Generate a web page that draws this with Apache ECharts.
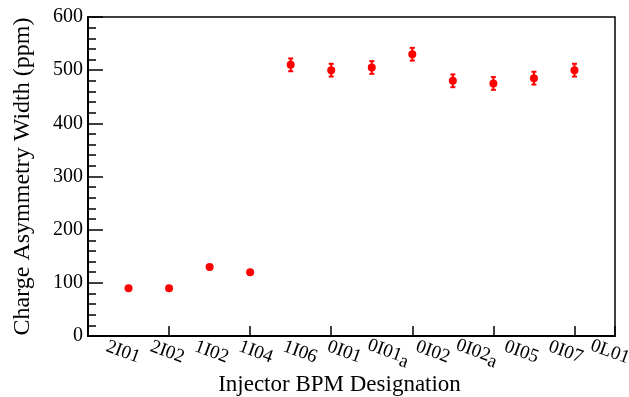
<!DOCTYPE html>
<html>
<head>
<meta charset="utf-8">
<script src="https://cdn.jsdelivr.net/npm/echarts@6/dist/echarts.min.js"></script>
<style>
html,body{margin:0;padding:0;background:#fff;}
#chart{width:629px;height:397px;}
</style>
</head>
<body>
<div id="chart"></div>
<script>
const bpmNames = ['2I01','2I02','1I02','1I04','1I06','0I01','0I01a','0I02','0I02a','0I05','0I07','0L01'];
const xPos = [1,2,3,4,5,6,7,8,9,10,11,12];
const widthPpm = [90,90,130,120,510,500,505,530,480,475,485,500];
const errPpm = [0,0,0,0,12,12,12,12,12,12,12,12];
const yTicks = [0,100,200,300,400,500,600];
const labelIdx = [0,1,2,3,4,5,6,7,8,9,10,11];

const FONT = 'Liberation Serif';
const chart = echarts.init(document.getElementById('chart'), null, {renderer:'canvas'});

const scatterData = xPos.map((x,i)=>[x, widthPpm[i]]);
const errData = xPos.map((x,i)=>[x, widthPpm[i]-errPpm[i], widthPpm[i]+errPpm[i]]);

function fmtName(v){
  const s = bpmNames[Math.round(v)] || '';
  const m = s.match(/^(.*?)(a)$/);
  return m ? m[1] + '{sub|' + m[2] + '}' : s;
}

chart.setOption({
  animation:false,
  backgroundColor:'#fff',
  grid:{left:88,right:14,top:17,bottom:61,outerBoundsMode:'none',containLabel:false,show:true,borderColor:'#000',borderWidth:1.5,backgroundColor:'transparent'},
  xAxis:[{
    type:'value',min:0,max:13,interval:2,
    axisLine:{show:true,lineStyle:{color:'#000',width:2}},
    axisTick:{show:true,inside:true,length:10,lineStyle:{color:'#000',width:1.5}},
    axisLabel:{show:false},
    splitLine:{show:false},
    name:'Injector BPM Designation',nameLocation:'middle',nameGap:37,
    nameTextStyle:{fontFamily:FONT,fontSize:23,color:'#000',padding:[0,24,0,0]}
  },{
    type:'value',min:-0.7906,max:11.114,position:'bottom',
    axisLine:{show:false},axisTick:{show:false},splitLine:{show:false},
    axisLabel:{show:true,customValues:labelIdx,formatter:fmtName,rotate:-20,align:'center',verticalAlign:'middle',margin:16,
      fontFamily:FONT,fontSize:19,color:'#000',
      rich:{sub:{fontFamily:FONT,fontSize:19,color:'#000',verticalAlign:'bottom',padding:[8,0,0,0]}}}
  }],
  yAxis:{
    type:'value',min:0,max:600,interval:100,
    axisLine:{show:true,lineStyle:{color:'#000',width:2}},
    axisTick:{show:true,inside:true,length:15,lineStyle:{color:'#000',width:1.5}},
    minorTick:{show:true,splitNumber:5,length:8,lineStyle:{color:'#000',width:1.5}},
    axisLabel:{show:true,margin:5,fontFamily:FONT,fontSize:20,color:'#000',customValues:yTicks},
    splitLine:{show:false},
    name:'Charge Asymmetry Width (ppm)',nameLocation:'middle',nameGap:53,
    nameTextStyle:{fontFamily:FONT,fontSize:24,color:'#000'}
  },
  series:[{
    type:'custom',xAxisIndex:0,yAxisIndex:0,
    data:errData,
    renderItem:function(params,api){
      const x = api.value(0), lo = api.value(1), hi = api.value(2);
      if (hi - lo <= 0) return null;
      const p1 = api.coord([x,lo]), p2 = api.coord([x,hi]);
      const cw = 2.5;
      const st = {stroke:'#ff0000',lineWidth:2};
      return {type:'group',children:[
        {type:'line',shape:{x1:p1[0],y1:p1[1],x2:p2[0],y2:p2[1]},style:st},
        {type:'line',shape:{x1:p1[0]-cw,y1:p1[1],x2:p1[0]+cw,y2:p1[1]},style:st},
        {type:'line',shape:{x1:p2[0]-cw,y1:p2[1],x2:p2[0]+cw,y2:p2[1]},style:st}
      ]};
    },
    z:2
  },{
    type:'scatter',xAxisIndex:0,yAxisIndex:0,
    data:scatterData,symbol:'circle',symbolSize:8,
    itemStyle:{color:'#ff0000',opacity:1},z:3
  }]
});
</script>
</body>
</html>
